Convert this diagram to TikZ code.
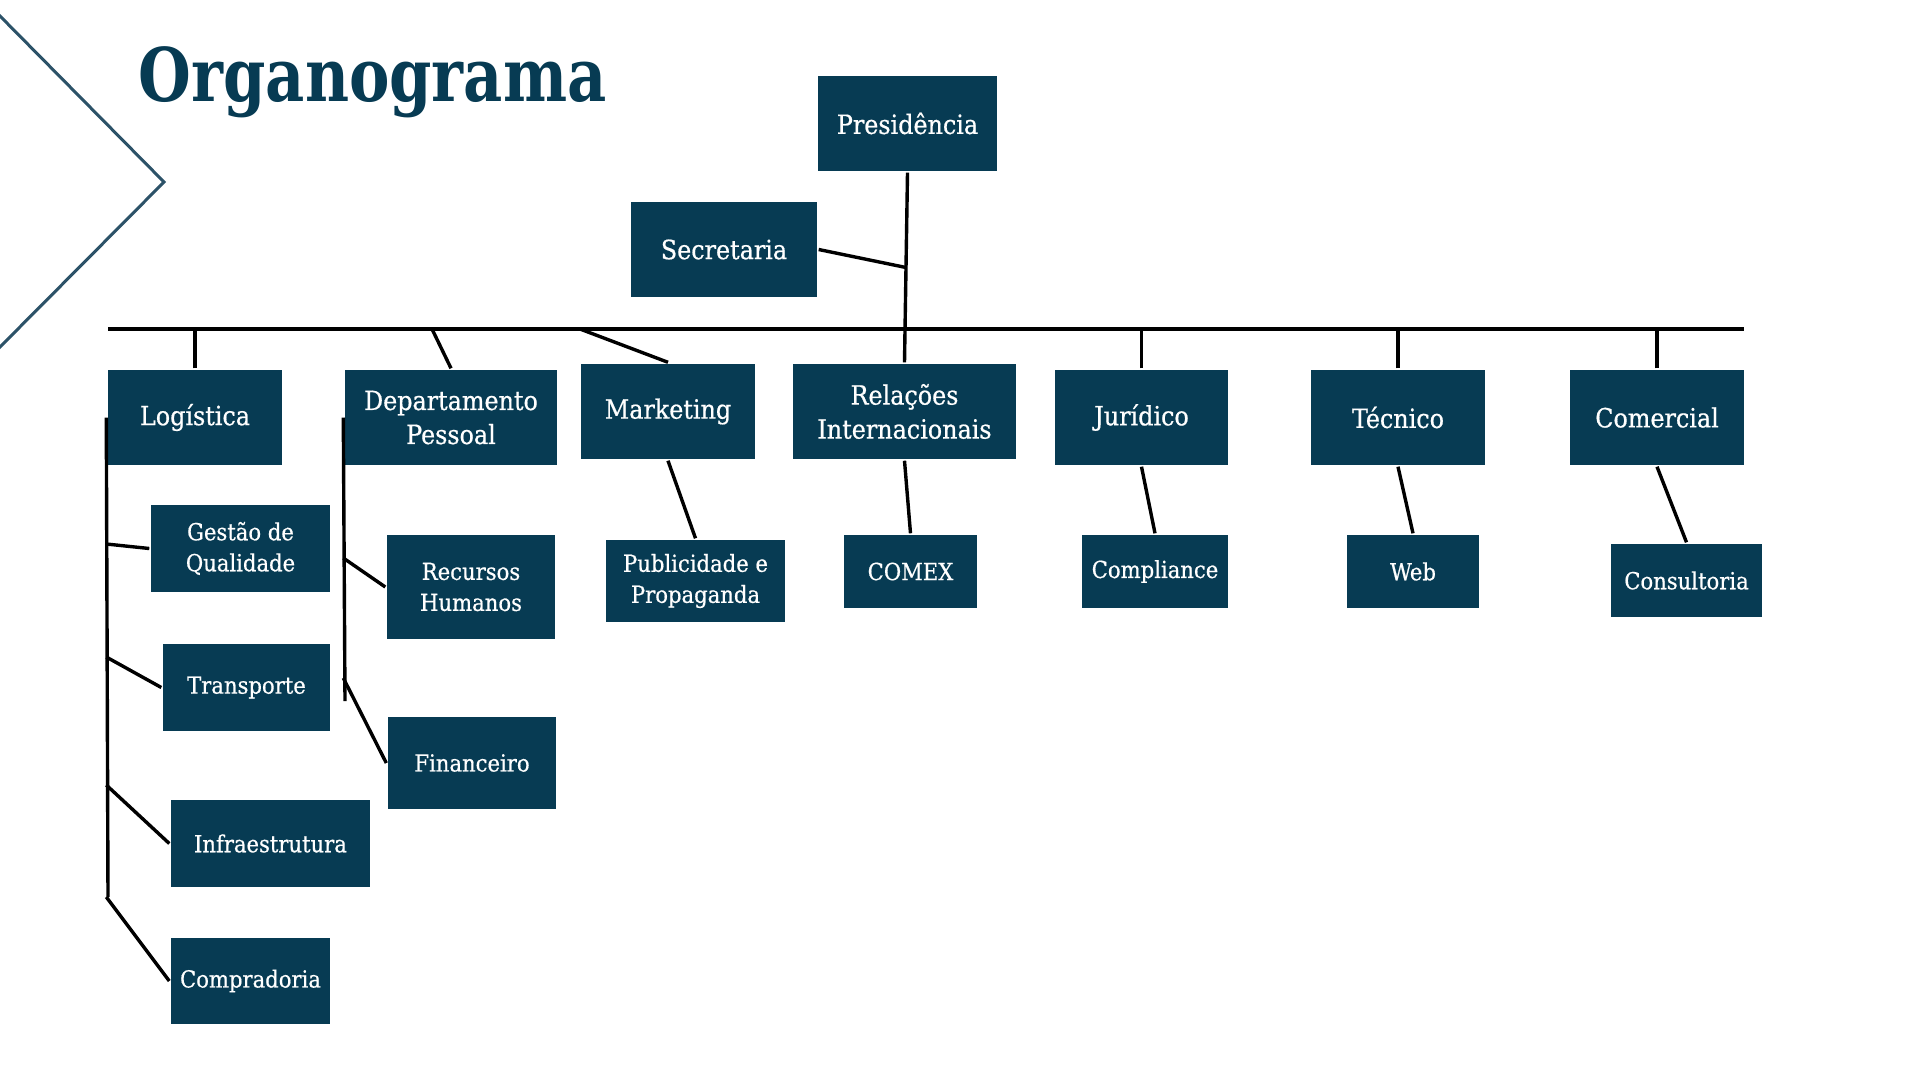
\documentclass[tikz,border=0pt]{standalone}
\usepackage{fontspec}
\setmainfont{DejaVu Serif Condensed}
\newfontfamily\boxfont{DejaVu Serif Condensed}[FakeBold=0.6]
\newfontfamily\titlefont{DejaVu Serif Condensed Bold}[FakeStretch=0.91]
\usetikzlibrary{calc}
\definecolor{navy}{RGB}{7,59,83}
\definecolor{slate}{RGB}{44,82,104}

\begin{document}
\begin{tikzpicture}[x=1pt,y=-1pt,line width=3.4pt,
  unit/.style={fill=navy,text=white,align=center,inner sep=0pt},
  topunit/.style={unit,minimum height=95,font=\boxfont\fontsize{26.5}{34}\selectfont},
  subunit/.style={unit,font=\boxfont\fontsize{23.5}{31}\selectfont}]
  \useasboundingbox (0,0) rectangle (1920,1080);
  % chevron and title
  \draw[slate,line width=3pt] (-2,14) -- (164,182) -- (-2,349);
  \node[navy,anchor=base west,inner sep=0pt,font=\titlefont\fontsize{74}{80}\selectfont] (title) at (137,101) {Organograma};
  % top of the chart
  \node[topunit,minimum width=179] (pres) at (907.5,123.5) {Presidência};
  \node[topunit,minimum width=186] (sec) at (724,249.5) {Secretaria};
  % departments
  \node[topunit,minimum width=174] (log) at (195,417.5) {Logística};
  \node[topunit,minimum width=212] (dp) at (451,417.5) {Departamento\\Pessoal};
  \node[topunit,minimum width=174] (mkt) at (668,411.5) {Marketing};
  \node[topunit,minimum width=223] (rel) at (904.5,411.5) {Relações\\Internacionais};
  \node[topunit,minimum width=173] (jur) at (1141.5,417.5) {Jurídico};
  \node[topunit,minimum width=174] (tec) at (1398,417.5) {Técnico};
  \node[topunit,minimum width=174] (com) at (1657,417.5) {Comercial};
  % sectors
  \node[subunit,minimum width=179,minimum height=87] (gq) at (240.5,548.5) {Gestão de\\Qualidade};
  \node[subunit,minimum width=167,minimum height=87] (tr) at (246.5,687.5) {Transporte};
  \node[subunit,minimum width=199,minimum height=87] (inf) at (270.5,843.5) {Infraestrutura};
  \node[subunit,minimum width=159,minimum height=86] (comp) at (250.5,981) {Compradoria};
  \node[subunit,minimum width=168,minimum height=104] (rh) at (471,587) {Recursos\\Humanos};
  \node[subunit,minimum width=168,minimum height=92] (fin) at (472,763) {Financeiro};
  \node[subunit,minimum width=179,minimum height=82] (pub) at (695.5,581) {Publicidade e\\Propaganda};
  \node[subunit,minimum width=133,minimum height=73] (comex) at (910.5,571.5) {COMEX};
  \node[subunit,minimum width=146,minimum height=73] (compl) at (1155,571.5) {Compliance};
  \node[subunit,minimum width=132,minimum height=73] (web) at (1413,571.5) {Web};
  \node[subunit,minimum width=151,minimum height=73] (cons) at (1686.5,580.5) {Consultoria};
  % bus and taps
  \coordinate (busL) at (108,329);
  \coordinate (busR) at (1744,329);
  \coordinate (dpTap) at (432,329);
  \coordinate (mktTap) at (580,329);
  \coordinate (logEnd) at (108,897);
  \coordinate (dpEnd) at (345,701);
  \draw (busL) -- (busR);
  \draw (pres.south) -- (rel.north);
  \draw (sec.east) -- ($(pres.south)!0.5!(rel.north)$);
  \foreach \n in {log,jur,tec,com}
    \draw (\n.north) -- (\n.north |- busL);
  \draw (dpTap) -- (dp.north);
  \draw (mktTap) -- (mkt.north);
  % department to sector
  \draw (mkt.south) -- (pub.north);
  \draw (rel.south) -- (comex.north);
  \draw (jur.south) -- (compl.north);
  \draw (tec.south) -- (web.north);
  \draw (com.south) -- (cons.north);
  % side spines
  \draw (log.west) -- (logEnd);
  \foreach \n/\y in {gq/544,tr/657,inf/785,comp/897}
    \draw (log.west |- 0,\y) -- (\n.west);
  \draw (dp.west) -- (dpEnd);
  \foreach \n/\y in {rh/558,fin/678}
    \draw (dp.west |- 0,\y) -- (\n.west);
\end{tikzpicture}
\end{document}
